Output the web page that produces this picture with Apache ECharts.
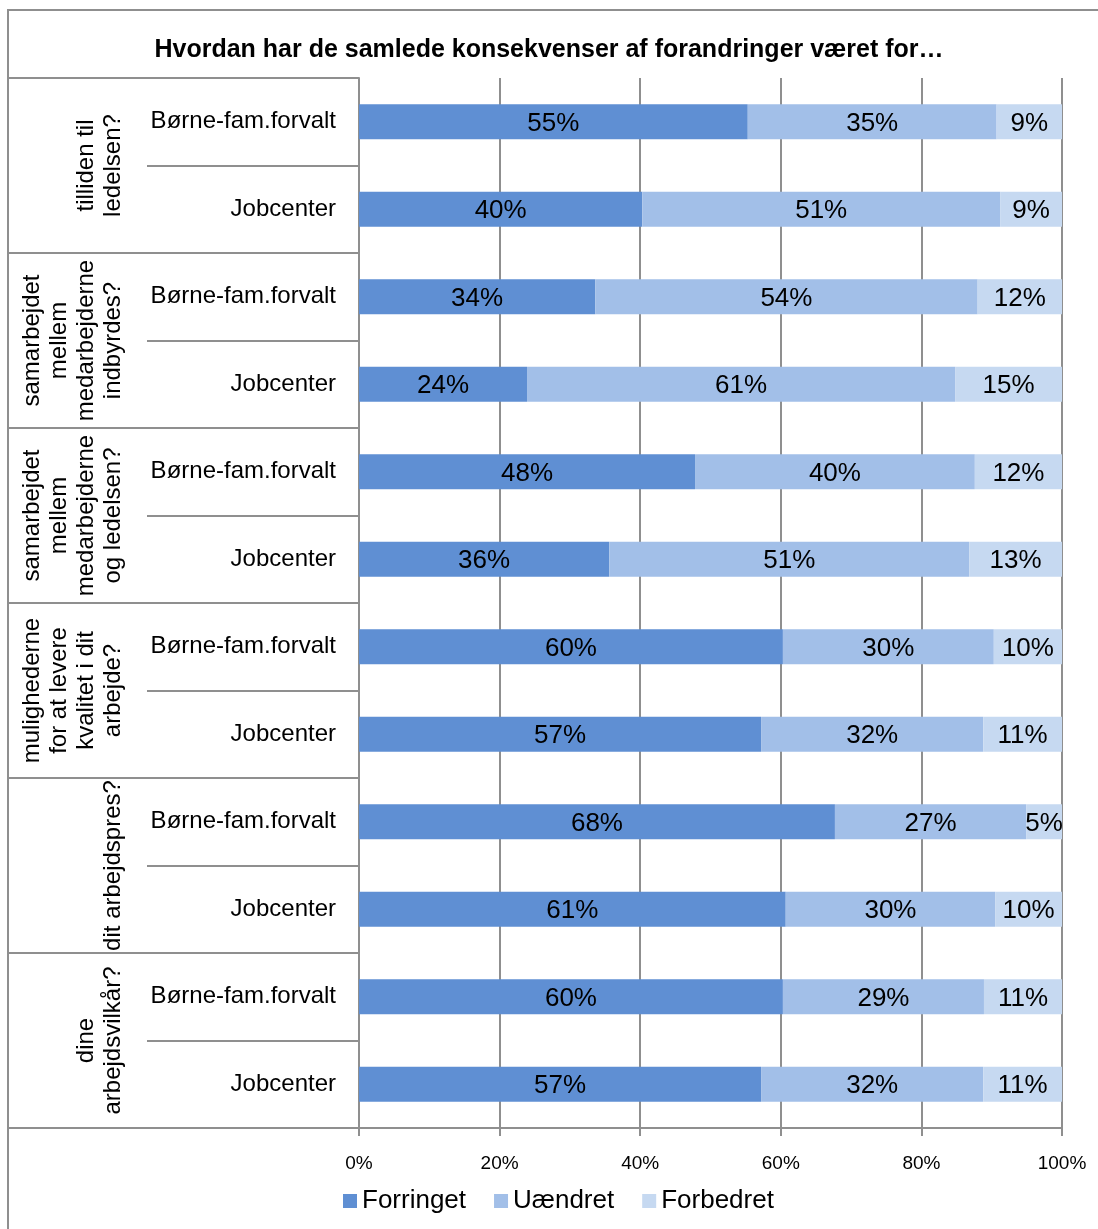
<!DOCTYPE html>
<html>
<head>
<meta charset="utf-8">
<script src="https://cdn.jsdelivr.net/npm/echarts@6/dist/echarts.min.js"></script>
<style>
  html, body { margin: 0; padding: 0; background: #fff; }
  #chart { width: 1098px; height: 1229px; }
</style>
</head>
<body>
<div id="chart"></div>
<script>
// spørgsmål (grupper) og enheder
const groups = [
  'tilliden til\nledelsen?',
  'samarbejdet\nmellem\nmedarbejderne\nindbyrdes?',
  'samarbejdet\nmellem\nmedarbejderne\nog ledelsen?',
  'mulighederne\nfor at levere\nkvalitet i dit\narbejde?',
  'dit arbejdspres?',
  'dine\narbejdsvilkår?'
]
const units = ['Børne-fam.forvalt', 'Jobcenter']
const categories = groups.flatMap(() => units)

// andele i procent, læst af figuren
const forringet = [55.3, 40.3, 33.6, 23.9, 47.8, 35.6, 60.3, 57.2, 67.7, 60.7, 60.3, 57.2]
const uaendret = [35.4, 50.9, 54.4, 60.9, 39.8, 51.2, 30.0, 31.6, 27.2, 29.8, 28.6, 31.6]
const forbedret = [9.3, 8.8, 12.0, 15.2, 12.4, 13.2, 9.7, 11.2, 5.1, 9.5, 11.1, 11.2]

const FONT = '"Liberation Sans", Arial, sans-serif'
const LINE = '#8f8f8f'

const chart = echarts.init(document.getElementById('chart'))

const barLabel = {
  show: true,
  position: 'inside',
  color: '#000',
  fontSize: 26,
  fontFamily: FONT,
  offset: [0, 2],
  formatter: (p) => Math.round(p.value) + '%'
}

function makeSeries(name, data, color) {
  return {
    name,
    type: 'bar',
    stack: 'total',
    barWidth: '40%',
    itemStyle: { color },
    label: barLabel,
    emphasis: { disabled: true },
    data
  }
}

const option = {
  animation: false,
  title: {
    text: 'Hvordan har de samlede konsekvenser af forandringer været for…',
    left: 'center',
    top: 33,
    textStyle: { fontSize: 25, fontWeight: 'bold', color: '#000', fontFamily: FONT }
  },
  legend: {
    left: 338,
    top: 1183,
    icon: 'rect',
    itemWidth: 14,
    itemHeight: 14,
    itemGap: 28,
    textStyle: { fontSize: 26, color: '#000', fontFamily: FONT },
    data: ['Forringet', 'Uændret', 'Forbedret']
  },
  grid: { left: 359, right: 36, top: 78, bottom: 101 },
  xAxis: {
    type: 'value',
    min: 0,
    max: 100,
    interval: 20,
    axisLine: { show: true, lineStyle: { color: LINE, width: 2 } },
    axisTick: { show: true, length: 8, lineStyle: { color: LINE, width: 2 } },
    splitLine: { show: true, lineStyle: { color: LINE, width: 2 } },
    axisLabel: { formatter: '{value}%', fontSize: 19, color: '#000', margin: 26, fontFamily: FONT }
  },
  yAxis: [
    {
      type: 'category',
      inverse: true,
      data: categories,
      axisLine: { show: true, lineStyle: { color: LINE, width: 2 } },
      axisTick: { show: true, length: 212, lineStyle: { color: LINE, width: 2 } },
      axisLabel: { fontSize: 24, color: '#000', margin: 23, padding: [6, 0, 0, 0], fontFamily: FONT }
    },
    {
      type: 'category',
      inverse: true,
      position: 'left',
      data: groups,
      axisLine: { show: false },
      axisTick: { show: true, length: 351, lineStyle: { color: LINE, width: 2 } },
      axisLabel: { show: false }
    }
  ],
  series: [
    makeSeries('Forringet', forringet, '#5f8fd3'),
    makeSeries('Uændret', uaendret, '#a2bfe8'),
    makeSeries('Forbedret', forbedret, '#c6d9f1')
  ]
}

chart.setOption(option)

// gruppetekster, roteret, placeret efter kategoriaksen
const groupTexts = groups.map((g) => {
  const y = chart.convertToPixel({ yAxisIndex: 1 }, g)
  return {
    type: 'text',
    x: 127,
    y,
    rotation: Math.PI / 2,
    style: {
      text: g,
      align: 'center',
      verticalAlign: 'bottom',
      fontSize: 24,
      lineHeight: 27,
      fontFamily: FONT,
      fill: '#000'
    }
  }
})

chart.setOption({
  graphic: [
    {
      type: 'rect',
      shape: { x: 8, y: 10, width: 1200, height: 1300 },
      style: { fill: 'none', stroke: LINE, lineWidth: 2 },
      silent: true
    },
    ...groupTexts
  ]
})
</script>
</body>
</html>
